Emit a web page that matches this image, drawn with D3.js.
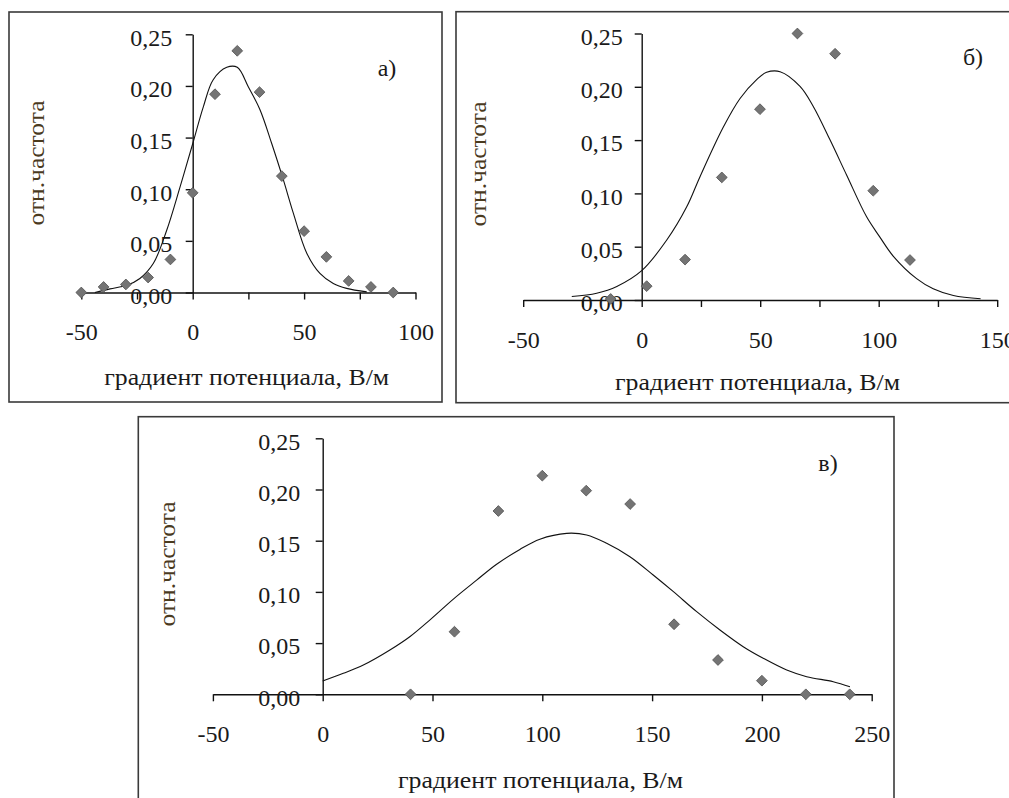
<!DOCTYPE html>
<html><head><meta charset="utf-8">
<script src="https://cdn.jsdelivr.net/npm/d3@7"></script>
<style>html,body{margin:0;padding:0;background:#fff;overflow:hidden}</style>
</head><body>
<script>
// ---- data ----
const yTicks = [0, 0.05, 0.10, 0.15, 0.20, 0.25];
const aTicksX = [-50, -25, 0, 25, 50, 75, 100];
const aLabelsX = [-50, 0, 50, 100];
const aPtsX = [-50, -40, -30, -20, -10, 0, 10, 20, 30, 40, 50, 60, 70, 80, 90];
const aPtsY = [0.000, 0.0054, 0.0078, 0.0145, 0.032, 0.0965, 0.192, 0.234, 0.194, 0.1127, 0.0594, 0.0345, 0.0112, 0.0054, 0.000];
const aCurveX = [-43.9, -37.1, -29.6, -23.7, -17.7, -11.7, -5.7, 0, 4.8, 9.2, 15.3, 20, 25, 30.2, 35.5, 40.7, 45.2, 51.2, 57.1, 63.1, 69.1, 78.1];
const aCurveY = [0.000, 0.0035, 0.007, 0.0136, 0.028, 0.060, 0.102, 0.144, 0.180, 0.206, 0.218, 0.218, 0.199, 0.177, 0.144, 0.109, 0.0766, 0.038, 0.0184, 0.0087, 0.004, 0.0006];

const bTicksX = [-50, -25, 0, 25, 50, 75, 100, 125, 150];
const bLabelsX = [-50, 0, 50, 100, 150];
const bPtsX = [-13.1, 2.1, 18.3, 33.8, 49.9, 65.7, 81.6, 97.7, 113.2];
const bPtsY = [0.001, 0.013, 0.0379, 0.115, 0.179, 0.250, 0.231, 0.1025, 0.0375];
const bCurveX = [-29.5, -19, -10.5, 0, 10.5, 19, 24.6, 34.4, 41.5, 48.5, 52.7, 58.4, 66.8, 72.4, 79.5, 86.5, 94.9, 100.5, 106.2, 116, 123, 131.5, 143];
const bCurveY = [0.0033, 0.0064, 0.0127, 0.0275, 0.056, 0.0874, 0.1157, 0.162, 0.189, 0.2067, 0.2136, 0.2142, 0.2004, 0.1816, 0.150, 0.117, 0.078, 0.059, 0.041, 0.020, 0.0105, 0.0042, 0.0012];

const cTicksX = [-50, 0, 50, 100, 150, 200, 250];
const cLabelsX = [-50, 0, 50, 100, 150, 200, 250];
const cPtsX = [40, 60, 80, 100, 120, 140, 160, 180, 200, 220, 240];
const cPtsY = [0.000, 0.0611, 0.179, 0.2135, 0.1989, 0.1858, 0.0684, 0.0335, 0.0133, 0.000, 0.000];
const cCurveX = [0, 9.4, 18.5, 30.6, 39.8, 49, 59.5, 70.1, 79.2, 89.8, 98.9, 111.1, 120.2, 129.3, 139.9, 150.5, 159.7, 170.3, 180.9, 191.5, 200.6, 211.3, 220.4, 232.5, 240.1];
const cCurveY = [0.013, 0.0205, 0.0286, 0.0433, 0.0565, 0.073, 0.093, 0.1115, 0.127, 0.1415, 0.1515, 0.1572, 0.1556, 0.1475, 0.1344, 0.1165, 0.1002, 0.0807, 0.0628, 0.0465, 0.0352, 0.0237, 0.0172, 0.0123, 0.0074];

const xTitle = "градиент потенциала, В/м";
const yTitle = "отн.частота";

// ---- drawing ----
const W = 1009, H = 798;
const svg = d3.select("body").append("svg").attr("width", W).attr("height", H)
  .style("font-family", "'Liberation Serif','Times New Roman',serif");

const loc = d3.formatLocale({decimal: ",", thousands: " ", grouping: [3], currency: ["", ""], minus: "-"});
const fmtY = loc.format(".2f");
const fmtX = loc.format("d");

const panels = [
  {frame: [9, 12, 433, 390], xd: [-50, 100], xr: [81.3, 415.5], yr: [292.5, 34.3],
   ticksX: aTicksX, labelsX: aLabelsX, px: aPtsX, py: aPtsY, cx: aCurveX, cy: aCurveY,
   xLabOff: 39, yLabGap: 20.5, title: [246.7, 376.7], ytitle: [36, 163], tag: "а)", tagPos: [387, 68]},
  {frame: [456, 11.7, 600, 391], xd: [-50, 150], xr: [523.2, 997.2], yr: [300, 33.5],
   ticksX: bTicksX, labelsX: bLabelsX, px: bPtsX, py: bPtsY, cx: bCurveX, cy: bCurveY,
   xLabOff: 40, yLabGap: 19, title: [757.5, 381.7], ytitle: [477.3, 164], tag: "б)", tagPos: [973, 57]},
  {frame: [138.3, 416.7, 755.7, 420], xd: [-50, 250], xr: [212.9, 871.7], yr: [694.3, 438.3],
   ticksX: cTicksX, labelsX: cLabelsX, px: cPtsX, py: cPtsY, cx: cCurveX, cy: cCurveY,
   xLabOff: 39, yLabGap: 22.5, title: [540.5, 780], ytitle: [166.7, 564], tag: "в)", tagPos: [828, 463]}
];

panels.forEach(p => {
  const g = svg.append("g");
  g.append("rect").attr("x", p.frame[0]).attr("y", p.frame[1])
    .attr("width", p.frame[2]).attr("height", p.frame[3])
    .attr("fill", "#fff").attr("stroke", "#3a3a3a").attr("stroke-width", 1.6);

  const x = d3.scaleLinear().domain(p.xd).range(p.xr);
  const y = d3.scaleLinear().domain([0, 0.25]).range(p.yr);

  // x axis
  const gx = g.append("g").attr("transform", `translate(0,${y(0)})`)
    .call(d3.axisBottom(x).tickValues(p.ticksX)
      .tickFormat(v => p.labelsX.includes(v) ? fmtX(v) : "")
      .tickSize(7).tickSizeOuter(0));
  gx.select(".domain").attr("stroke", "#111").attr("stroke-width", 1.4);
  gx.selectAll(".tick line").attr("stroke", "#111").attr("stroke-width", 1.4);
  gx.selectAll(".tick text").attr("y", p.xLabOff).attr("dy", "0.35em")
    .attr("font-size", 24).attr("fill", "#1a1a1a").attr("font-family", "'Liberation Serif',serif");

  // y axis
  const gy = g.append("g").attr("transform", `translate(${x(0)},0)`)
    .call(d3.axisLeft(y).tickValues(yTicks).tickFormat(fmtY).tickSize(7).tickSizeOuter(0));
  gy.select(".domain").attr("stroke", "#111").attr("stroke-width", 1.4);
  gy.selectAll(".tick line").attr("stroke", "#111").attr("stroke-width", 1.4);
  gy.selectAll(".tick text").attr("x", -p.yLabGap).attr("dy", "0.45em")
    .attr("font-size", 24).attr("fill", "#1a1a1a").attr("font-family", "'Liberation Serif',serif");

  // curve
  const cdata = p.cx.map((v, i) => [v, p.cy[i]]);
  g.append("path").datum(cdata)
    .attr("d", d3.line().x(d => x(d[0])).y(d => y(d[1])).curve(d3.curveCatmullRom.alpha(0.5)))
    .attr("fill", "none").attr("stroke", "#111").attr("stroke-width", 1.1);

  // points
  const pdata = p.px.map((v, i) => [v, p.py[i]]);
  const sym = d3.symbol().type(d3.symbolSquare).size(58);
  g.selectAll(".pt").data(pdata).enter().append("path")
    .attr("d", sym)
    .attr("transform", d => `translate(${x(d[0])},${y(d[1])}) rotate(45)`)
    .attr("fill", "#747474").attr("stroke", "#555").attr("stroke-width", 0.8);

  // titles
  g.append("text").attr("x", p.title[0]).attr("y", p.title[1]).attr("dy", "0.35em")
    .attr("text-anchor", "middle").attr("font-size", 24).attr("fill", "#1a1a1a")
    .attr("textLength", 285).attr("lengthAdjust", "spacingAndGlyphs")
    .text(xTitle);
  g.append("text").attr("transform", `translate(${p.ytitle[0]},${p.ytitle[1]}) rotate(-90)`)
    .attr("dy", "0.35em").attr("text-anchor", "middle").attr("font-size", 24)
    .attr("fill", "#4a3a1e").attr("textLength", 125).attr("lengthAdjust", "spacingAndGlyphs")
    .text(yTitle);
  g.append("text").attr("x", p.tagPos[0]).attr("y", p.tagPos[1]).attr("dy", "0.35em")
    .attr("text-anchor", "middle").attr("font-size", 24).attr("fill", "#1a1a1a")
    .text(p.tag);
});
</script>
</body></html>
